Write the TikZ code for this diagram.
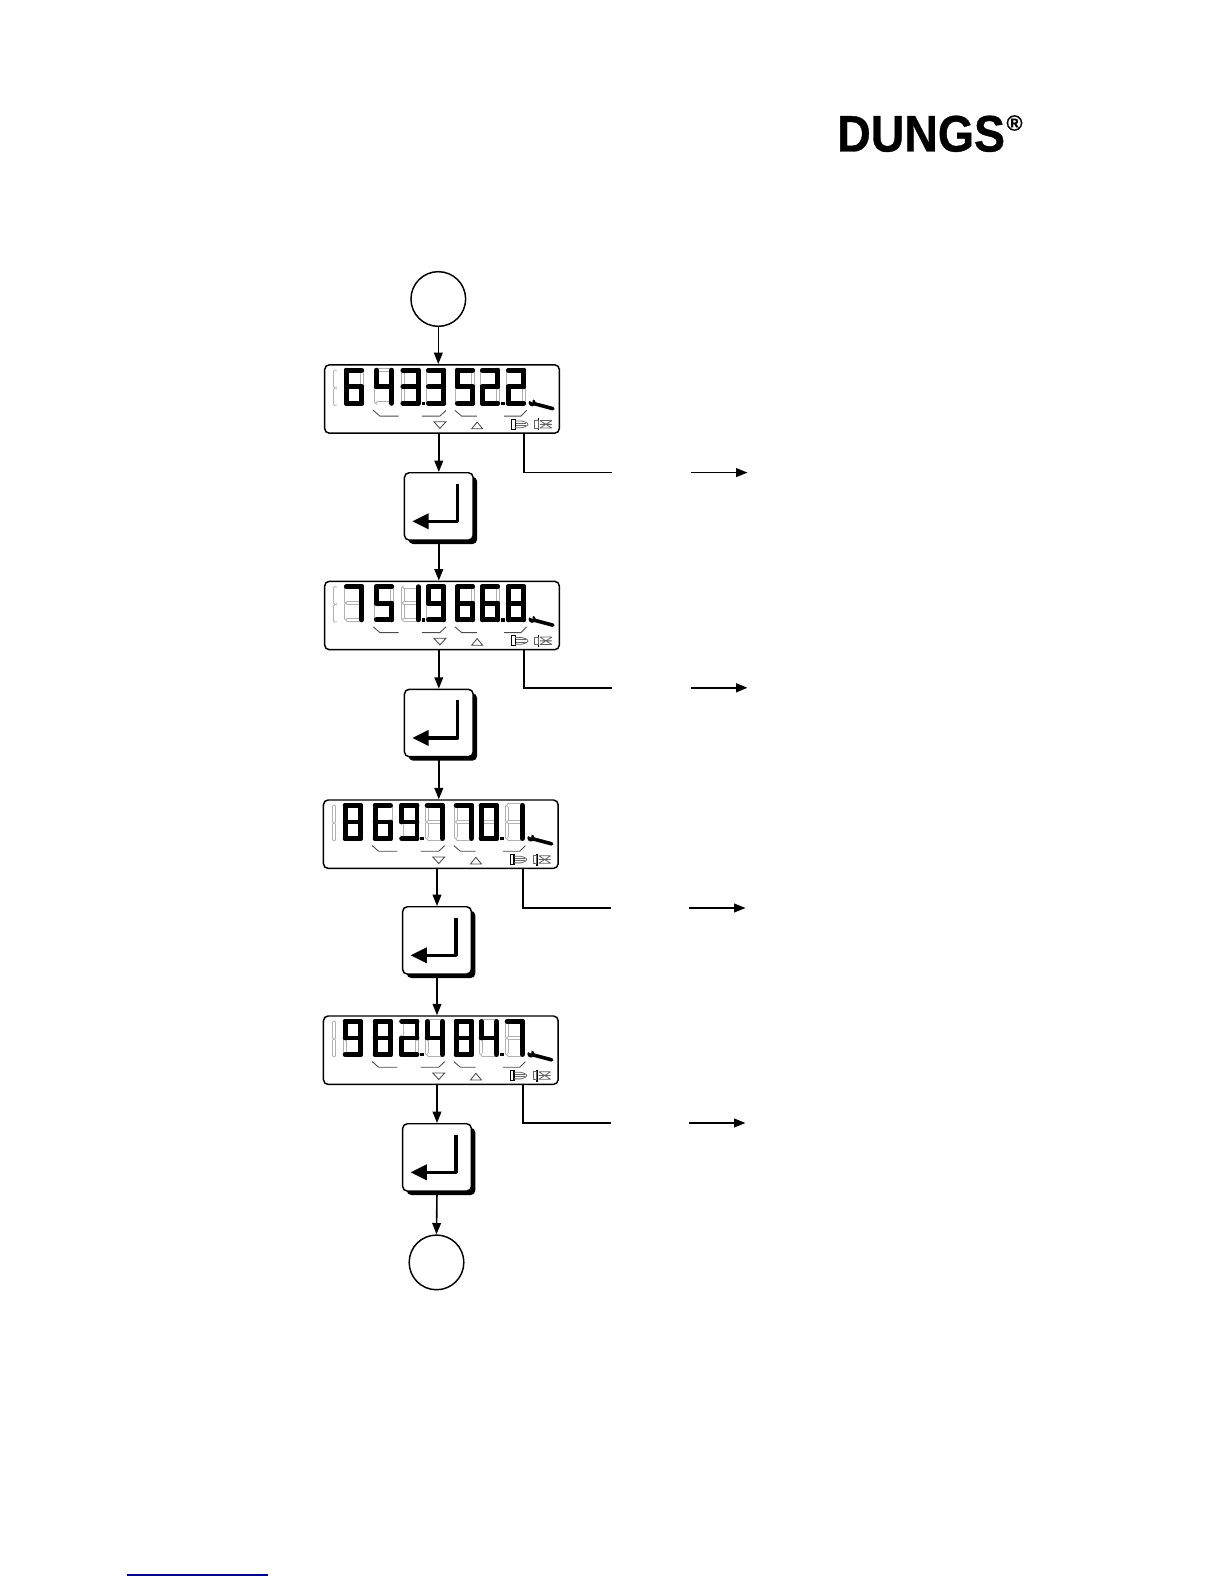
\documentclass[tikz,border=0pt]{standalone}
\usepackage{fontspec}
\setmainfont{Liberation Sans}
\newfontfamily\logofont[FakeBold=0.7]{Liberation Sans Bold}
\usetikzlibrary{arrows.meta,shadows}
% segment lists of each digit
\expandafter\def\csname DgL0\endcsname{a,b,c,d,e,f}
\expandafter\def\csname DgL1\endcsname{b,c}
\expandafter\def\csname DgL2\endcsname{a,b,g,e,d}
\expandafter\def\csname DgL3\endcsname{a,b,g,c,d}
\expandafter\def\csname DgL4\endcsname{f,g,b,c}
\expandafter\def\csname DgL5\endcsname{a,f,g,c,d}
\expandafter\def\csname DgL6\endcsname{a,f,g,e,c,d}
\expandafter\def\csname DgL7\endcsname{a,b,c}
\expandafter\def\csname DgL8\endcsname{a,b,c,d,e,f,g}
\expandafter\def\csname DgL9\endcsname{a,b,c,d,f,g}
% lit segments
\expandafter\def\csname Sga\endcsname#1{\draw[#1] (2.4,2.4)--(17.8,2.4);}
\expandafter\def\csname Sgb\endcsname#1{\draw[#1] (17.8,2.4)--(17.8,19);}
\expandafter\def\csname Sgc\endcsname#1{\draw[#1] (17.8,19)--(17.8,35.6);}
\expandafter\def\csname Sgd\endcsname#1{\draw[#1] (2.4,35.6)--(17.8,35.6);}
\expandafter\def\csname Sge\endcsname#1{\draw[#1] (2.4,19)--(2.4,35.6);}
\expandafter\def\csname Sgf\endcsname#1{\draw[#1] (2.4,2.4)--(2.4,19);}
\expandafter\def\csname Sgg\endcsname#1{\draw[#1] (2.4,19)--(17.8,19);}
% one digit: x offset, digit
\newcommand\lcddigit[2]{%
  \begin{scope}[shift={(#1,3.7)}]
    \draw[ghost] (2.4,3.8)--(2.4,17.6); \draw[ghost] (2.4,20.4)--(2.4,34.2);
    \draw[ghost] (17.8,3.8)--(17.8,17.6); \draw[ghost] (17.8,20.4)--(17.8,34.2);
    \draw[ghost] (3.8,2.4)--(16.4,2.4); \draw[ghost] (3.8,19)--(16.4,19); \draw[ghost] (3.8,35.6)--(16.4,35.6);
    \expandafter\let\expandafter\seglist\csname DgL#2\endcsname
    \foreach \s in \seglist {\csname Sg\s\endcsname{lit}}
  \end{scope}}
% contents of a display, given as seven digits
\newcommand\lcdface[8]{%
  \begin{scope}[shift={(#1.north west)}]
    \draw[ghost] (11.5,7.5)--(11.5,22); \draw[ghost] (11.5,25.5)--(11.5,40);
    \lcddigit{20}{#2}\lcddigit{50}{#3}\lcddigit{76.5}{#4}\lcddigit{102}{#5}
    \lcddigit{131}{#6}\lcddigit{156}{#7}\lcddigit{182}{#8}
    \fill (97.6,37.6) rectangle ++(3.6,3.6);
    \fill (177.4,37.6) rectangle ++(3.6,3.6);
    % wrench
    \fill (208.2,38.7) circle (3.6);
    \draw[line width=2.7bp,line cap=round] (208,39) -- (229,44.6);
    \fill[white] (203.6,36) -- (208.6,38.2) -- (209,34) -- cycle;
    % soft key marks
    \draw[mark line] (49.3,46.3)--(56,52)--(74.7,52);
    \draw[mark line] (98,52)--(116,52)--(122,46.3);
    \draw[mark line] (131,46.3)--(137.7,52)--(153,52);
    \draw[mark line] (180.3,52)--(197,52)--(202.7,46.3);
    % triangles
    \draw[mark line] (110,57.7)--(122,57.7)--(116,64.3)--cycle;
    \draw[mark line] (147.7,64.7)--(158.7,64.7)--(153.2,58)--cycle;
    % burner icons
    \draw[line width=0.85bp] (187.8,55.3) rectangle (191.2,65.3);
    \draw[icon line,rounded corners=2*0.75bp] (191.2,57)--(200,57)--(205,60.3)--(200,63.6)--(191.2,63.6);
    \draw[icon line] (192,59)--(202,59) (192,61.5)--(202,61.5);
    \draw[line width=1.1bp] (214.3,54.3)--(214.3,66.3);
    \draw[icon line] (210.5,56.5) rectangle (214,64);
    \draw[icon line] (216,56.5)--(228,64) (216,64)--(228,56.5) (216,56.5)--(228,56.5) (216,64)--(228,64) (216,60.3)--(228,60.3);
  \end{scope}}
\newcommand\enterglyph[1]{%
  \begin{scope}[shift={(#1.north west)}]
    \draw[enter line] (54,11.6)--(54,49.3)--(18,49.3);
    \fill (8.7,49.3)--(25,41.2)--(25,57.4)--cycle;
  \end{scope}}
\tikzset{
  x=0.75bp,y=-0.75bp,
  ghost/.style={draw=black!30,double=white,line width=0.6bp,double distance=1.8bp,line cap=round},
  lit/.style={draw=black,line width=3.6bp,line cap=round},
  mark line/.style={draw=black!70,line width=0.65bp},
  icon line/.style={draw=black!60,line width=0.6bp},
  disp/.style={draw=black,line width=1.1bp,rounded corners=3.5bp,inner sep=0pt,minimum width=176bp,minimum height=51.3bp,fill=white},
  keycap/.style={draw=black,line width=1.1bp,rounded corners=3.5bp,inner sep=0pt,minimum width=51.5bp,minimum height=50.5bp,fill=white,
    general shadow={fill=black,shadow xshift=3bp,shadow yshift=-3bp}},
  term/.style={circle,draw=black,line width=1.1bp,inner sep=0pt,minimum size=41bp,fill=white},
  enter line/.style={draw=black,line width=2.5bp,line join=round},
  conn/.style={draw=black,line width=1.2bp,-{Triangle[length=8.5bp,width=6.5bp]}},
  tail/.style={draw=black,line width=#1},
  tail/.default=1.15bp,
  logo/.style={inner sep=0pt,anchor=base west,font=\fontsize{38.5bp}{42bp}\selectfont\logofont,xscale=0.905},
  regmark/.style={inner sep=0pt,font=\fontsize{16.5bp}{20bp}\selectfont\logofont},
}
\begin{document}
\begin{tikzpicture}
\useasboundingbox (0,0) rectangle (1224,1584);
\fill[white] (0,0) rectangle (1224,1584);

\node[logo] (dungs) at (837,151.5) {DUNGS};
\node[regmark] (reg) at (1014.5,123) {®};

\node[term] (c1) at (438.3,299) {};
\node[disp] (d1) at (442,399) {};
\node[keycap] (k1) at (438.8,506.4) {};
\node[disp] (d2) at (442,615.5) {};
\node[keycap] (k2) at (438.8,723) {};
\node[disp] (d3) at (440.8,834.2) {};
\node[keycap] (k3) at (437,940.4) {};
\node[disp] (d4) at (440.8,1050.2) {};
\node[keycap] (k4) at (437,1157.4) {};
\node[term] (c2) at (436.5,1262.4) {};

\lcdface{d1}{6}{4}{3}{3}{5}{2}{2}
\lcdface{d2}{7}{5}{1}{9}{6}{6}{8}
\lcdface{d3}{8}{6}{9}{7}{7}{0}{1}
\lcdface{d4}{9}{8}{2}{4}{8}{4}{7}
\enterglyph{k1}\enterglyph{k2}\enterglyph{k3}\enterglyph{k4}

\draw[conn] (c1.south) -- (c1.south |- d1.north);
\draw[conn] (k1.north |- d1.south) -- (k1.north);
\draw[conn] (k1.south) -- (k1.south |- d2.north);
\draw[conn] (k2.north |- d2.south) -- (k2.north);
\draw[conn] (k2.south) -- (k2.south |- d3.north);
\draw[conn] (k3.north |- d3.south) -- (k3.north);
\draw[conn] (k3.south) -- (k3.south |- d4.north);
\draw[conn] (k4.north |- d4.south) -- (k4.north);
\draw[conn] (k4.south) -- (c2.north);

\coordinate (t1) at (524,472.6); \coordinate (m1) at (612,472.6); \coordinate (n1) at (691,472.6); \coordinate (e1) at (747.5,472.6);
\coordinate (t2) at (524,687.8); \coordinate (m2) at (612,687.8); \coordinate (n2) at (691,687.8); \coordinate (e2) at (747.5,687.8);
\coordinate (t3) at (523,908); \coordinate (m3) at (611,908); \coordinate (n3) at (689,908); \coordinate (e3) at (745.5,908);
\coordinate (t4) at (523,1123); \coordinate (m4) at (611,1123); \coordinate (n4) at (689,1123); \coordinate (e4) at (745.5,1123);
\draw[tail] (t1 |- d1.south) -- (t1) -- (m1);
\draw[conn] (n1) -- (e1);
\draw[tail=1.7bp] (t2 |- d2.south) -- (t2) -- (m2);
\draw[conn,line width=1.7bp] (n2) -- (e2);
\draw[tail] (t3 |- d3.south) -- (t3) -- (m3);
\draw[conn] (n3) -- (e3);
\draw[tail] (t4 |- d4.south) -- (t4) -- (m4);
\draw[conn] (n4) -- (e4);

\coordinate (u1) at (127.3,1575); \coordinate (u2) at (268.3,1575);
\draw[draw={rgb,255:red,0;green,0;blue,140},line width=0.8bp] (u1) -- (u2);
\end{tikzpicture}
\end{document}
